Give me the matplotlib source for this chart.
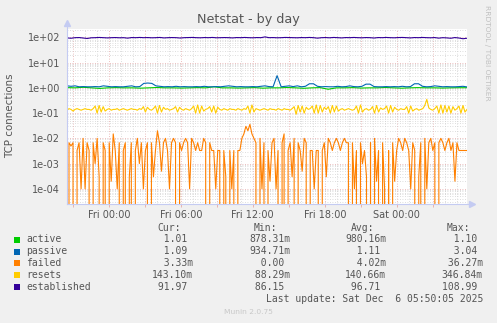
import numpy as np
import matplotlib
matplotlib.use('Agg')
import matplotlib.pyplot as plt
from matplotlib.patches import Rectangle
from matplotlib.ticker import FixedLocator, FixedFormatter, NullLocator

# Datos (Netstat - by day)
# Horas relativas a Fri 00:00
hora_inicio = -3.48
hora_fin = 29.85

series = ['active', 'passive', 'failed', 'resets', 'established']
colores = ['#00CC00', '#0066B3', '#FF8000', '#FFCC00', '#330099']

active = [1.02, 1.0, 1.05, 1.0, 0.95, 1.0, 1.02, 1.0, 1.0, 0.97, 1.0, 1.03, 1.0, 1.0, 0.98, 1.0, 1.02,
          1.0, 1.1, 1.0, 1.0, 0.98, 1.0, 1.02, 0.97, 1.0, 1.0, 1.03, 1.0, 0.96, 1.0, 1.02, 0.88, 1.0,
          1.0, 1.02, 0.98, 1.0, 1.0, 1.03, 1.0, 0.97, 1.0, 1.02, 1.0, 1.0, 0.98, 1.0, 1.01, 1.01]

passive = [1.2, 1.15, 1.2, 1.1, 1.12, 1.1, 1.1, 1.12, 1.1, 1.2, 1.15, 1.1, 1.12, 1.1, 1.1, 1.15, 1.2, 1.1, 1.12, 1.5,
           1.55, 1.5, 1.2, 1.15, 1.1, 1.12, 1.1, 1.15, 1.1, 1.12, 1.1, 1.1, 1.12, 1.1, 1.15, 1.1, 1.1, 1.12, 1.1, 1.15,
           1.2, 1.15, 1.1, 1.12, 1.1, 1.1, 1.12, 1.1, 1.15, 1.2, 1.12, 1.1, 3.04, 1.1, 1.15, 1.2, 1.12, 1.2, 1.1, 1.15,
           1.45, 1.45, 1.15, 1.1, 1.12, 1.1, 1.1, 1.15, 1.1, 1.12, 1.2, 1.12, 1.1, 1.15, 1.4, 1.4, 1.12, 1.1, 1.1, 1.12,
           1.1, 1.12, 1.1, 1.15, 1.1, 1.12, 1.45, 1.45, 1.15, 1.1, 1.12, 1.2, 1.15, 1.1, 1.12, 1.1, 1.1, 1.12, 1.15, 1.09]

# failed en milesimas (m)
failed_m = [0, 6.7, 5, 6.7, 0, 3.3, 6.7, 0.1, 10, 0.1, 6.7, 3.3, 0, 6.7, 1.0, 10, 0.3, 0, 6.7, 3.3,
            0, 6.7, 0.2, 15, 3.3, 0.1, 6.7, 0, 3.3, 6.7, 0, 0.3, 6.7, 0, 3.3, 10, 1.0, 6.7, 0.1, 3.3,
            6.7, 0, 6.7, 0.3, 3.3, 20, 6.7, 0.5, 6.7, 10, 3.3, 0.1, 6.7, 10, 6.7, 0, 6.7, 3.3, 6.7, 10,
            6.7, 0.1, 10, 6.7, 3.3, 6.7, 3.3, 3.3, 10, 6.7, 0, 6.7, 3.3, 3.3, 0.1, 3.3, 3.3, 0, 3.3, 0.3,
            0, 3.3, 0.1, 3.3, 0, 3.3, 3.3, 10, 15, 30, 20, 36, 15, 10, 6.7, 0, 10, 0.1, 6.7, 0,
            3.3, 0.2, 6.7, 10, 0.1, 3.3, 0, 6.7, 15, 0, 3.3, 6.7, 0.3, 10, 0, 6.7, 3.3, 0.5, 10, 6.7,
            0, 3.3, 3.3, 0.1, 3.3, 3.3, 0, 3.3, 6.7, 0.3, 10, 6.7, 3.3, 6.7, 10, 6.7, 3.3, 6.7, 10, 6.7,
            6.7, 0, 6.7, 0.1, 3.3, 0, 6.7, 1.0, 3.3, 0.3, 0, 6.7, 0, 10, 0.2, 3.3, 0, 6.7, 0.1, 0,
            3.3, 0, 6.7, 0.2, 3.3, 10, 6.7, 3.3, 10, 6.7, 3.3, 0.1, 6.7, 3.3, 0, 0.3, 6.7, 0, 10, 0.1,
            6.7, 10, 3.3, 6.7, 0, 6.7, 10, 6.7, 3.3, 6.7, 10, 3.3, 6.7, 0.2, 6.7, 3.3, 3.3, 3.3, 3.3, 3.3]

resets = [0.13, 0.15, 0.14, 0.12, 0.14, 0.15, 0.14, 0.13, 0.14, 0.15, 0.14, 0.14, 0.13, 0.15, 0.19, 0.10, 0.20, 0.11, 0.18, 0.12,
          0.14, 0.15, 0.13, 0.14, 0.14, 0.15, 0.13, 0.14, 0.15, 0.14, 0.13, 0.14, 0.15, 0.14, 0.14, 0.13, 0.15, 0.14, 0.18, 0.11,
          0.17, 0.14, 0.13, 0.15, 0.19, 0.10, 0.20, 0.11, 0.17, 0.14, 0.15, 0.13, 0.14, 0.15, 0.18, 0.11, 0.17, 0.14, 0.13, 0.15,
          0.14, 0.13, 0.15, 0.19, 0.10, 0.21, 0.10, 0.19, 0.12, 0.14, 0.15, 0.18, 0.11, 0.19, 0.10, 0.17, 0.14, 0.13, 0.15, 0.14,
          0.13, 0.15, 0.14, 0.14, 0.13, 0.15, 0.14, 0.13, 0.15, 0.14, 0.19, 0.10, 0.21, 0.11, 0.15, 0.14, 0.13, 0.14, 0.15, 0.14,
          0.13, 0.15, 0.14, 0.14, 0.13, 0.15, 0.14, 0.13, 0.15, 0.14, 0.14, 0.13, 0.15, 0.18, 0.09, 0.20, 0.11, 0.19, 0.10, 0.17,
          0.14, 0.15, 0.19, 0.10, 0.21, 0.10, 0.20, 0.11, 0.17, 0.14, 0.18, 0.10, 0.20, 0.11, 0.19, 0.12, 0.14, 0.15, 0.13, 0.14,
          0.15, 0.14, 0.13, 0.14, 0.19, 0.10, 0.21, 0.11, 0.14, 0.15, 0.13, 0.14, 0.18, 0.10, 0.20, 0.11, 0.16, 0.14, 0.15, 0.19,
          0.10, 0.20, 0.11, 0.17, 0.14, 0.13, 0.15, 0.14, 0.14, 0.18, 0.10, 0.19, 0.12, 0.14, 0.15, 0.13, 0.14, 0.15, 0.20, 0.35,
          0.16, 0.14, 0.13, 0.15, 0.19, 0.10, 0.21, 0.10, 0.20, 0.11, 0.19, 0.10, 0.18, 0.13, 0.15, 0.19, 0.10, 0.20, 0.11, 0.14]

established = [95, 92, 97, 98, 94, 90, 96, 97, 99, 97, 95, 97, 98, 96, 97, 93, 98, 97, 99, 97,
               98, 96, 97, 99, 95, 97, 98, 97, 94, 97, 98, 99, 97, 96, 98, 97, 99, 96, 97, 98,
               97, 95, 98, 97, 99, 97, 96, 98, 97, 104, 97, 98, 96, 97, 99, 98, 97, 96, 98, 97,
               99, 97, 93, 97, 98, 96, 99, 97, 95, 98, 97, 99, 97, 96, 98, 97, 94, 98, 97, 99,
               97, 96, 98, 99, 97, 95, 98, 97, 99, 97, 96, 98, 93, 97, 95, 92, 98, 94, 88, 92]

# Tabla de la leyenda (Cur, Min, Avg, Max)
val_cur = ['  1.01 ', '  1.09 ', '  3.33m', '143.10m', ' 91.97 ']
val_min = ['878.31m', '934.71m', '  0.00 ', ' 88.29m', ' 86.15 ']
val_avg = ['980.16m', '  1.11 ', '  4.02m', '140.66m', ' 96.71 ']
val_max = ['  1.10 ', '  3.04 ', ' 36.27m', '346.84m', '108.99 ']

# Ejes
yticks = [1e-4, 1e-3, 1e-2, 1e-1, 1e0, 1e1, 1e2]
yticks_etiquetas = ['1e-04', '1e-03', '1e-02', '1e-01', '1e+00', '1e+01', '1e+02']
xticks_horas = [0, 6, 12, 18, 24]
xticks_etiquetas = ['Fri 00:00', 'Fri 06:00', 'Fri 12:00', 'Fri 18:00', 'Sat 00:00']

W, H = 497, 323
def fx(x):  # pixel -> fraccion figura
    return x / W
def fy(y):
    return 1 - y / H

gris = '#555555'
fondo = '#F0F0F0'

fig = plt.figure(figsize=(W / 100, H / 100), dpi=100, facecolor=fondo)
ax = fig.add_axes([fx(67), fy(204), 400 / W, 175 / H])
ax.set_facecolor('white')
ax.set_yscale('log', nonpositive='clip')
ax.set_xlim(hora_inicio, hora_fin)
ax.set_ylim(10 ** -4.6, 10 ** 2.33)

# Cuadricula estilo rrdtool
for h in np.arange(-3, 30, 1):
    es_mayor = (h % 3 == 0)
    ax.axvline(h, color='#E6A8A8' if es_mayor else '#D2D2D2', lw=0.6,
               linestyle=(0, (1, 2)), zorder=1)
for e in range(-5, 3):
    for k in range(1, 10):
        v = k * 10.0 ** e
        ax.axhline(v, color='#E6A8A8' if k == 1 else '#D2D2D2', lw=0.6,
                   linestyle=(0, (1, 2)), zorder=1)

# Lineas de datos
datos = [np.array(active), np.array(passive), np.array(failed_m) / 1000.0,
         np.array(resets), np.array(established)]
for nombre, y, c in zip(series, datos, colores):
    t = np.linspace(hora_inicio, hora_fin, len(y))
    ax.plot(t, y, color=c, lw=0.8, zorder=3)

# Ticks y etiquetas
ax.yaxis.set_major_locator(FixedLocator(yticks))
ax.yaxis.set_major_formatter(FixedFormatter(yticks_etiquetas))
ax.yaxis.set_minor_locator(NullLocator())
ax.xaxis.set_major_locator(FixedLocator(xticks_horas))
ax.xaxis.set_major_formatter(FixedFormatter(xticks_etiquetas))
ax.xaxis.set_minor_locator(FixedLocator([-3, 3, 9, 15, 21, 27]))
ax.tick_params(axis='y', length=0, pad=5, labelsize=7, labelcolor=gris)
ax.tick_params(axis='x', which='both', length=2, width=0.6, color='#E6A8A8',
               pad=2, labelsize=7, labelcolor=gris)
for s in ax.spines.values():
    s.set_visible(False)

# Ejes con flechas
col_eje = '#C4CBF2'
ax.plot([0, 0], [0, 1.035], transform=ax.transAxes, color=col_eje, lw=0.8, clip_on=False, zorder=4)
ax.plot([0, 1.012], [0, 0], transform=ax.transAxes, color=col_eje, lw=0.8, clip_on=False, zorder=4)
ax.plot([0], [1.035], marker='^', ms=4, color=col_eje, transform=ax.transAxes, clip_on=False)
ax.plot([1.012], [0], marker='>', ms=4, color=col_eje, transform=ax.transAxes, clip_on=False)

# Textos
fig.text(fx(248), fy(19), 'Netstat - by day', ha='center', va='center', fontsize=9.2, color=gris)
fig.text(fx(10), fy(116), 'TCP connections', ha='center', va='center', rotation=90,
         fontsize=7.4, color=gris)
fig.text(fx(487.5), fy(53), 'RRDTOOL / TOBI OETIKER', ha='center', va='center', rotation=270,
         fontsize=5.4, color='#C0C0C0')

mono = dict(family='DejaVu Sans Mono', fontsize=7.05, color=gris, va='center')
fig.text(fx(157), fy(228), 'Cur:', **mono)
fig.text(fx(253.5), fy(228), 'Min:', **mono)
fig.text(fx(351), fy(228), 'Avg:', **mono)
fig.text(fx(447), fy(228), 'Max:', **mono)

filas_y = [239.5, 251.5, 263.3, 275, 287]
for i, nombre in enumerate(series):
    yc = filas_y[i]
    fig.patches.append(Rectangle((fx(14), fy(yc + 3)), 6 / W, 6 / H, transform=fig.transFigure,
                                 facecolor=colores[i], edgecolor='none'))
    fig.text(fx(26), fy(yc), nombre, **mono)
    fig.text(fx(151.5), fy(yc), val_cur[i], **mono)
    fig.text(fx(249), fy(yc), val_min[i], **mono)
    fig.text(fx(345), fy(yc), val_avg[i], **mono)
    fig.text(fx(441.5), fy(yc), val_max[i], **mono)

fig.text(fx(483), fy(299.5), 'Last update: Sat Dec  6 05:50:05 2025', ha='right', va='center',
         family='DejaVu Sans Mono', fontsize=7.05, color=gris)
fig.text(fx(248), fy(312), 'Munin 2.0.75', ha='center', va='center', fontsize=5.4, color='#C8C8C8')

fig.savefig('out.png', dpi=100, facecolor=fondo)
